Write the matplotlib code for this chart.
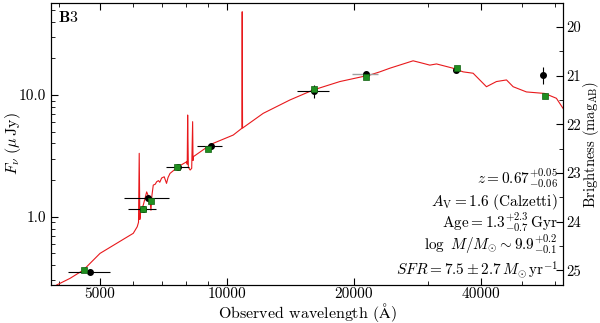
import numpy as np
import matplotlib
matplotlib.use("Agg")
import matplotlib.pyplot as plt
from matplotlib.ticker import FixedLocator, FormatStrFormatter, LogLocator, NullFormatter, MultipleLocator

plt.rcParams["font.family"] = ["cmr10", "DejaVu Serif"]
plt.rcParams["mathtext.fontset"] = "cm"
plt.rcParams["axes.unicode_minus"] = False
plt.rcParams["font.size"] = 11

# curva do modelo, comprimento de onda em Angstrom, fluxo em uJy
modelo_lambda = [3800, 3947, 4246, 4563, 5000, 5477, 5730, 5996, 6127, 6170, 6194, 6215,
                 6244, 6334, 6451, 6569, 6604, 6640, 6688, 6760, 6814, 6880, 6930, 7000,
                 7100, 7190, 7250, 7328, 7667, 8027, 8050, 8070, 8100, 8180, 8250, 8292,
                 8310, 8320, 9114, 9280, 10350, 10850, 10870, 10890, 12190, 14100, 16020,
                 18530, 21830, 23050, 24340, 27640, 29200, 30280, 31410, 34390, 36310,
                 38360, 41260, 43570, 46030, 47730, 51330, 56710, 60450, 62670, 64000]
modelo_fluxo = [0.245, 0.275, 0.312, 0.364, 0.500, 0.605, 0.665, 0.731, 0.828, 0.90, 3.32, 0.95,
                1.10, 1.25, 1.60, 1.37, 1.13, 1.50, 1.82, 1.85, 1.94, 1.98, 1.92, 2.08,
                2.13, 1.88, 2.10, 2.27, 2.58, 2.83, 2.70, 6.85, 2.55, 2.42, 2.50, 6.04,
                2.90, 3.11, 3.88, 4.01, 4.69, 5.33, 48.3, 5.35, 7.07, 9.10, 11.0,
                12.9, 14.6, 15.5, 16.6, 19.1, 18.2, 17.6, 18.0, 16.6, 15.5,
                15.1, 11.7, 12.9, 13.3, 11.7, 10.6, 10.3, 9.40, 7.78, 7.30]

# fotometria observada (pontos pretos)
obs_lambda = [4734, 6314, 6487, 7667, 9149, 16100, 35030, 56180]
obs_fluxo = [0.349, 1.15, 1.43, 2.58, 3.81, 10.8, 16.1, 14.6]
obs_lambda_min = [4196, 5815, 5700, 7153, 8475, 14680, 35030, 56180]
obs_lambda_max = [5287, 6790, 7298, 8143, 9747, 17470, 35030, 56180]
obs_fluxo_min = [0.34, 1.12, 1.39, 2.52, 3.72, 9.4, 15.7, 12.3]
obs_fluxo_max = [0.36, 1.18, 1.47, 2.64, 3.90, 12.05, 16.5, 17.1]

# banda com barra cinza
cinza_lambda = [21320]
cinza_fluxo = [14.9]
cinza_lambda_min = [19750]
cinza_lambda_max = [22850]

# fluxo do modelo nas bandas (pontos verdes)
sint_lambda = [4590, 6314, 6604, 7620, 9015, 16100, 21320, 35200, 56710]
sint_fluxo = [0.365, 1.15, 1.35, 2.55, 3.60, 11.1, 14.0, 16.8, 9.81]

xlim = (3826, 62670)
ylim = (0.275, 57.0)


def fluxo_para_mag(f):
    return 23.9 - 2.5 * np.log10(f)


def main():
    fig = plt.figure(figsize=(6.0, 3.23), dpi=100)
    ax = fig.add_axes([51 / 600, 38 / 323, 512 / 600, 282 / 323])

    ax.plot(modelo_lambda, modelo_fluxo, color="#e8191c", lw=0.8, zorder=2)

    ol = np.array(obs_lambda, dtype=float)
    of = np.array(obs_fluxo, dtype=float)
    xerr = [ol - np.array(obs_lambda_min), np.array(obs_lambda_max) - ol]
    yerr = [of - np.array(obs_fluxo_min), np.array(obs_fluxo_max) - of]
    ax.errorbar(ol, of, xerr=xerr, yerr=yerr, fmt="o", color="black", ms=4,
                elinewidth=0.8, capsize=0, zorder=3)

    cl = np.array(cinza_lambda, dtype=float)
    cx = [cl - np.array(cinza_lambda_min), np.array(cinza_lambda_max) - cl]
    ax.errorbar(cl, cinza_fluxo, xerr=cx, fmt="none", ecolor="#a0a0a0",
                elinewidth=1.0, capsize=0, zorder=3)
    ax.plot(cl, cinza_fluxo, "o", color="black", ms=4, zorder=3)

    ax.plot(sint_lambda, sint_fluxo, "s", color="#1f8f1f", mec="#106010",
            mew=0.5, ms=4, zorder=4)

    ax.set_xscale("log")
    ax.set_yscale("log")
    ax.set_xlim(*xlim)
    ax.set_ylim(*ylim)

    ax.xaxis.set_major_locator(FixedLocator([5000, 10000, 20000, 40000]))
    ax.xaxis.set_major_formatter(FormatStrFormatter("%d"))
    ax.xaxis.set_minor_locator(LogLocator(base=10, subs=np.arange(2, 10)))
    ax.xaxis.set_minor_formatter(NullFormatter())

    ax.yaxis.set_major_locator(FixedLocator([1.0, 10.0]))
    ax.yaxis.set_major_formatter(FormatStrFormatter("%.1f"))
    ax.yaxis.set_minor_locator(LogLocator(base=10, subs=np.arange(2, 10)))
    ax.yaxis.set_minor_formatter(NullFormatter())

    ax.tick_params(which="both", direction="in", top=True, right=False, labelsize=11)
    ax.tick_params(axis="x", which="both", pad=1.5)
    ax.tick_params(which="major", length=5)
    ax.tick_params(which="minor", length=3)

    ax.set_xlabel(r"Observed wavelength $(\mathrm{\AA})$", fontsize=11.5, va="center")
    ax.xaxis.set_label_coords(0.5, -(312 - 285) / 282)
    ax.set_ylabel(r"$F_{\nu}\ (\mu\,\mathrm{Jy})$", fontsize=11.5, va="center")
    ax.yaxis.set_label_coords((13 - 51) / 512, 0.5)

    # eixo de magnitudes AB
    ax2 = ax.twinx()
    ax2.set_ylim(fluxo_para_mag(ylim[0]), fluxo_para_mag(ylim[1]))
    ax2.yaxis.set_major_locator(FixedLocator([20, 21, 22, 23, 24, 25]))
    ax2.yaxis.set_major_formatter(FormatStrFormatter("%d"))
    ax2.yaxis.set_minor_locator(MultipleLocator(0.5))
    ax2.tick_params(which="both", direction="in", labelsize=10.5, pad=2)
    ax2.tick_params(which="major", length=5)
    ax2.tick_params(which="minor", length=3)
    ax2.set_ylabel(r"Brightness $(\mathrm{mag}_{\mathrm{AB}})$", fontsize=10.5,
                   rotation=90, va="center")
    ax2.yaxis.set_label_coords((591 - 51) / 512, 0.5)

    fig.text(58 / 600, 1 - 18 / 323, r"$\mathbf{B3}$", fontsize=11.5, ha="left", va="center")

    textos = [
        (178, r"$z = 0.67^{+0.05}_{-0.06}$"),
        (202, r"$A_{\mathrm{V}} = 1.6\ (\mathrm{Calzetti})$"),
        (222, r"$\mathrm{Age} = 1.3^{+2.3}_{-0.7}\,\mathrm{Gyr}$"),
        (244, r"$\log\ M/M_{\odot} \sim 9.9^{+0.2}_{-0.1}$"),
        (270, r"$SFR = 7.5 \pm 2.7\,M_{\odot}\,\mathrm{yr}^{-1}$"),
    ]
    for y, t in textos:
        fig.text(558 / 600, 1 - y / 323, t, fontsize=11, ha="right", va="center")

    fig.savefig("out.png", dpi=100)


if __name__ == "__main__":
    main()
